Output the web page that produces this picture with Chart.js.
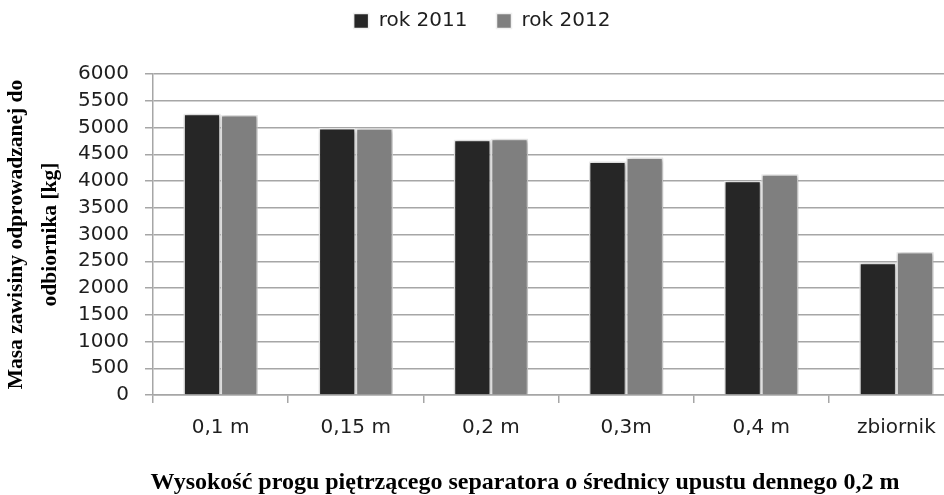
<!DOCTYPE html>
<html>
<head>
<meta charset="utf-8">
<script src="https://cdn.jsdelivr.net/npm/chart.js@4.4.1/dist/chart.umd.min.js"></script>
<style>
  html, body { margin: 0; padding: 0; background: #fff; overflow: hidden; }
  #wrap { position: relative; width: 964px; height: 495px; }
</style>
</head>
<body>
<div id="wrap"><canvas id="c"></canvas></div>
<script>
const categories = ['0,1 m', '0,15 m', '0,2 m', '0,3m', '0,4 m', 'zbiornik'];
const seriesNames = ['rok 2011', 'rok 2012'];
const values2011 = [5255, 4990, 4770, 4365, 4005, 2470];
const values2012 = [5235, 4985, 4790, 4440, 4125, 2675];
const yTitleLines = ['Masa zawisiny odprowadzanej do', 'odbiornika [kg]'];
const xTitle = 'Wysokość progu piętrzącego separatora o średnicy upustu dennego 0,2 m';

const shadowPlugin = {
  id: 'barShadow',
  beforeDatasetsDraw(chart) {
    const ctx = chart.ctx;
    ctx.save();
    ctx.shadowColor = 'rgba(0,0,0,0.35)';
    ctx.shadowBlur = 4;
    ctx.shadowOffsetX = 1;
    ctx.shadowOffsetY = 1;
  },
  afterDatasetsDraw(chart) {
    chart.ctx.restore();
  }
};

const legendMargin = {
  id: 'legendMargin',
  beforeInit(chart) {
    const orig = chart.legend.fit;
    chart.legend.fit = function () {
      orig.call(this);
      this.height += 33;
    };
  }
};

// x axis title, placed a little left of the plot centre as in the reference
const xTitlePlugin = {
  id: 'xTitleText',
  afterDraw(chart) {
    const ctx = chart.ctx;
    const xs = chart.scales.x;
    ctx.save();
    ctx.font = 'bold 24px "Liberation Serif"';
    ctx.fillStyle = '#000';
    ctx.textAlign = 'center';
    ctx.textBaseline = 'middle';
    ctx.fillText(xTitle, xs.left + 372, chart.height - 12);
    ctx.restore();
  }
};

const gridGray = '#a6a6a6';
const tickFont = { family: 'DejaVu Sans', size: 20 };
const textColor = '#1e1e1e';

new Chart(document.getElementById('c'), {
  type: 'bar',
  data: {
    labels: categories,
    datasets: [
      { label: seriesNames[0], data: values2011, backgroundColor: '#262626', borderColor: '#f0f0f0', borderWidth: 1.5 },
      { label: seriesNames[1], data: values2012, backgroundColor: '#7f7f7f', borderColor: '#f0f0f0', borderWidth: 1.5 }
    ]
  },
  options: {
    responsive: true,
    maintainAspectRatio: false,
    animation: false,
    layout: { padding: { left: 0, right: 0, top: -18, bottom: 42 } },
    datasets: { bar: { categoryPercentage: 0.55, barPercentage: 1.0 } },
    plugins: {
      legend: {
        position: 'top',
        labels: {
          font: tickFont,
          color: textColor,
          boxWidth: 15,
          boxHeight: 15,
          padding: 29
        }
      },
      tooltip: { enabled: false }
    },
    scales: {
      x: {
        offset: true,
        grid: { display: true, drawOnChartArea: false, offset: true, color: gridGray, lineWidth: 1.5, tickLength: 8 },
        border: { display: true, color: gridGray, width: 1.5 },
        ticks: { font: tickFont, color: textColor, padding: 13, maxRotation: 0, autoSkip: false }
      },
      y: {
        min: 0,
        max: 6000,
        afterFit: (scale) => { scale.width = 153; },
        ticks: {
          stepSize: 500,
          autoSkip: false,
          font: tickFont,
          color: textColor,
          padding: 16,
          callback: (v) => String(v)
        },
        grid: { color: gridGray, lineWidth: 1.5, tickLength: 8 },
        border: { display: true, color: gridGray, width: 1.5 },
        title: {
          display: true,
          text: yTitleLines,
          font: { family: 'Liberation Serif', size: 21.5, weight: 'bold', lineHeight: 1.55 },
          color: '#000',
          padding: { top: 0, bottom: 2 }
        }
      }
    }
  },
  plugins: [shadowPlugin, legendMargin, xTitlePlugin]
});
</script>
</body>
</html>
